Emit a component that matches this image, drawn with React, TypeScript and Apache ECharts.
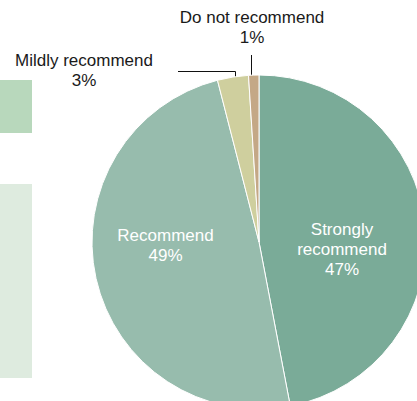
import React, { useEffect, useRef } from "react";
import * as echarts from "echarts";

const categories = ["Strongly recommend", "Recommend", "Mildly recommend", "Do not recommend"];
const values = [47, 49, 3, 1];
const percentLabels = ["47%", "49%", "3%", "1%"];
const labelTexts = ["Strongly\nrecommend", "Recommend", "Mildly recommend", "Do not recommend"];

const sliceColors = ["#7aab98", "#97bcad", "#cfcf9e", "#c4a886"];
const labelColors = ["#ffffff", "#ffffff", "#1a1a1a", "#1a1a1a"];
const labelInside = [true, true, false, false];
const labelPos: number[][] = [
  [342, 249],
  [165.5, 245],
  [84, 70.5],
  [252, 27],
];
const linePoints: (number[][] | null)[] = [
  null,
  null,
  [
    [235.5, 103],
    [235.5, 71.5],
    [178, 71.5],
  ],
  [
    [251.5, 97],
    [251.5, 76],
    [251.5, 55],
  ],
];

export default function App() {
  const ref = useRef<HTMLDivElement>(null);
  useEffect(() => {
    if (!ref.current) return;
    const chart = echarts.init(ref.current, null, { renderer: "svg" });
    chart.setOption({
      animation: false,
      backgroundColor: "#ffffff",
      textStyle: { fontFamily: "Liberation Sans, Arial, sans-serif" },
      graphic: [
        { type: "rect", shape: { x: 0, y: 80, width: 32, height: 53 }, style: { fill: "#b8d8bc" }, silent: true },
        { type: "rect", shape: { x: 0, y: 184, width: 32, height: 194 }, style: { fill: "#deebdf" }, silent: true },
      ],
      series: [
        {
          type: "pie",
          center: [259, 242],
          radius: 167,
          startAngle: 90,
          clockwise: true,
          silent: true,
          avoidLabelOverlap: false,
          emphasis: { disabled: true },
          itemStyle: { borderColor: "#ffffff", borderWidth: 1 },
          label: {
            show: true,
            fontSize: 17,
            lineHeight: 20,
            align: "center",
            overflow: "none",
            width: 300,
            fontFamily: "Liberation Sans, Arial, sans-serif",
          },
          labelLine: { show: false, lineStyle: { color: "#111111", width: 1 } },
          labelLayout: (params: any) => {
            const i = params.dataIndex;
            const out: any = {
              x: labelPos[i][0],
              y: labelPos[i][1],
              align: "center",
              verticalAlign: "middle",
              hideOverlap: false,
            };
            if (linePoints[i]) out.labelLinePoints = linePoints[i];
            return out;
          },
          data: categories.map((name, i) => ({
            name,
            value: values[i],
            itemStyle: { color: sliceColors[i] },
            label: {
              position: labelInside[i] ? "inside" : "outside",
              formatter: labelTexts[i] + "\n" + percentLabels[i],
              color: labelColors[i],
            },
            labelLine: { show: linePoints[i] !== null, length: 10, length2: 10 },
          })),
        },
      ],
    });
    return () => chart.dispose();
  }, []);
  return (
    <div
      ref={ref}
      style={{ position: "fixed", left: 0, top: 0, width: 417, height: 401, background: "#fff" }}
    />
  );
}
